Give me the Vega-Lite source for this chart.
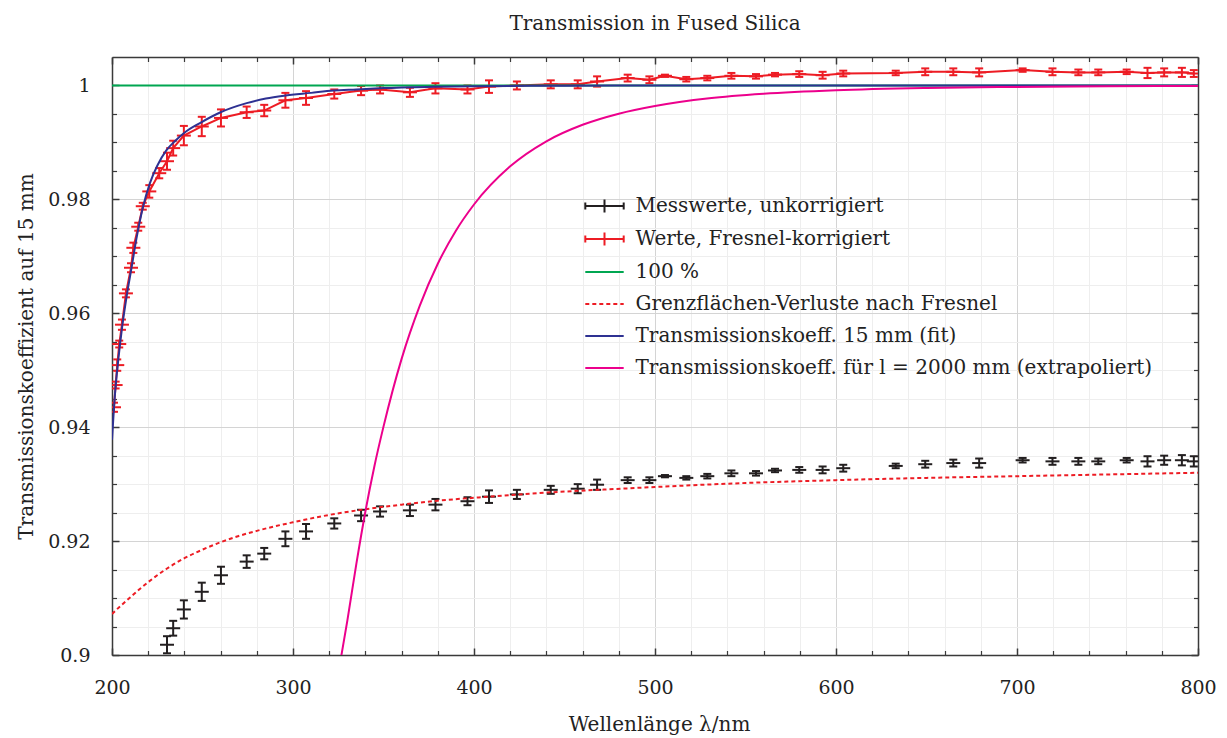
{
  "$schema": "https://vega.github.io/schema/vega-lite/v6.json",
  "width": 1086,
  "height": 598,
  "autosize": {"type": "none"},
  "padding": {"left": 112, "top": 57, "right": 29, "bottom": 83},
  "title": {"text": "Transmission in Fused Silica", "fontSize": 20, "font": "DejaVu Serif", "fontWeight": "normal", "color": "#222222", "baseline": "alphabetic", "offset": 6, "anchor": "middle", "frame": "group"},
  "config": {
    "font": "DejaVu Serif",
    "view": {"stroke": null},
    "axis": {"labelFont": "DejaVu Serif", "titleFont": "DejaVu Serif", "labelColor": "#222222", "titleColor": "#222222", "titleFontWeight": "normal", "tickColor": "#3a3a3a", "domainColor": "#3a3a3a"}
  },
  "datasets": {
    "mess": [
      {"wl": 230.4, "T": 0.9018, "lo": 0.9003, "hi": 0.9033},
      {"wl": 233.8, "T": 0.9047, "lo": 0.9034, "hi": 0.906},
      {"wl": 239.7, "T": 0.908, "lo": 0.9064, "hi": 0.9096},
      {"wl": 249.6, "T": 0.9111, "lo": 0.9095, "hi": 0.9127},
      {"wl": 260.2, "T": 0.914, "lo": 0.9125, "hi": 0.9155},
      {"wl": 274.4, "T": 0.9164, "lo": 0.9153, "hi": 0.9175},
      {"wl": 284.1, "T": 0.9178, "lo": 0.9168, "hi": 0.9188},
      {"wl": 295.8, "T": 0.9204, "lo": 0.9191, "hi": 0.9217},
      {"wl": 307.2, "T": 0.9217, "lo": 0.9204, "hi": 0.923},
      {"wl": 322.8, "T": 0.9231, "lo": 0.9222, "hi": 0.924},
      {"wl": 337.6, "T": 0.9245, "lo": 0.9235, "hi": 0.9255},
      {"wl": 348.1, "T": 0.9252, "lo": 0.9243, "hi": 0.9261},
      {"wl": 364.6, "T": 0.9254, "lo": 0.9244, "hi": 0.9264},
      {"wl": 378.7, "T": 0.9264, "lo": 0.9254, "hi": 0.9274},
      {"wl": 396.4, "T": 0.927, "lo": 0.9263, "hi": 0.9277},
      {"wl": 408.3, "T": 0.9278, "lo": 0.9267, "hi": 0.9289},
      {"wl": 423.7, "T": 0.9282, "lo": 0.9274, "hi": 0.929},
      {"wl": 442.4, "T": 0.929, "lo": 0.9283, "hi": 0.9297},
      {"wl": 457.3, "T": 0.9292, "lo": 0.9284, "hi": 0.93},
      {"wl": 468.0, "T": 0.9299, "lo": 0.929, "hi": 0.9308},
      {"wl": 484.9, "T": 0.9307, "lo": 0.9302, "hi": 0.9312},
      {"wl": 496.9, "T": 0.9307, "lo": 0.9302, "hi": 0.9312},
      {"wl": 505.5, "T": 0.9314, "lo": 0.9312, "hi": 0.9316},
      {"wl": 517.3, "T": 0.9311, "lo": 0.9308, "hi": 0.9314},
      {"wl": 528.9, "T": 0.9314, "lo": 0.931, "hi": 0.9318},
      {"wl": 542.2, "T": 0.9319, "lo": 0.9314, "hi": 0.9324},
      {"wl": 555.8, "T": 0.9319, "lo": 0.9315, "hi": 0.9323},
      {"wl": 566.3, "T": 0.9324, "lo": 0.9321, "hi": 0.9327},
      {"wl": 579.7, "T": 0.9325, "lo": 0.932, "hi": 0.933},
      {"wl": 592.6, "T": 0.9325, "lo": 0.9319, "hi": 0.9331},
      {"wl": 604.0, "T": 0.9328, "lo": 0.9322, "hi": 0.9334},
      {"wl": 633.0, "T": 0.9332, "lo": 0.9328, "hi": 0.9336},
      {"wl": 649.3, "T": 0.9335, "lo": 0.9329, "hi": 0.9341},
      {"wl": 664.8, "T": 0.9337, "lo": 0.9331, "hi": 0.9343},
      {"wl": 679.1, "T": 0.9337, "lo": 0.9329, "hi": 0.9345},
      {"wl": 703.1, "T": 0.9342, "lo": 0.9338, "hi": 0.9346},
      {"wl": 719.6, "T": 0.934, "lo": 0.9334, "hi": 0.9346},
      {"wl": 733.9, "T": 0.934, "lo": 0.9334, "hi": 0.9346},
      {"wl": 744.9, "T": 0.934, "lo": 0.9335, "hi": 0.9345},
      {"wl": 760.6, "T": 0.9342, "lo": 0.9338, "hi": 0.9346},
      {"wl": 772.1, "T": 0.934, "lo": 0.9331, "hi": 0.9349},
      {"wl": 781.3, "T": 0.9342, "lo": 0.9334, "hi": 0.935},
      {"wl": 791.1, "T": 0.9342, "lo": 0.9333, "hi": 0.9351},
      {"wl": 797.7, "T": 0.934, "lo": 0.9331, "hi": 0.9349}
    ],
    "korr": [
      {"wl": 201.1, "T": 0.9435, "lo": 0.9427, "hi": 0.9443},
      {"wl": 202.0, "T": 0.9474, "lo": 0.9468, "hi": 0.948},
      {"wl": 202.9, "T": 0.9509, "lo": 0.9499, "hi": 0.9519},
      {"wl": 204.0, "T": 0.9546, "lo": 0.954, "hi": 0.9552},
      {"wl": 205.5, "T": 0.958, "lo": 0.9571, "hi": 0.9589},
      {"wl": 207.7, "T": 0.9635, "lo": 0.9628, "hi": 0.9642},
      {"wl": 210.5, "T": 0.968, "lo": 0.9672, "hi": 0.9688},
      {"wl": 211.8, "T": 0.9715, "lo": 0.9706, "hi": 0.9724},
      {"wl": 214.5, "T": 0.9752, "lo": 0.9745, "hi": 0.9759},
      {"wl": 217.0, "T": 0.9788, "lo": 0.9782, "hi": 0.9794},
      {"wl": 220.6, "T": 0.9814, "lo": 0.9803, "hi": 0.9825},
      {"wl": 226.1, "T": 0.9846, "lo": 0.9837, "hi": 0.9855},
      {"wl": 230.4, "T": 0.9867, "lo": 0.9852, "hi": 0.9882},
      {"wl": 233.8, "T": 0.989, "lo": 0.9877, "hi": 0.9903},
      {"wl": 239.7, "T": 0.9912, "lo": 0.9895, "hi": 0.9929},
      {"wl": 249.6, "T": 0.9928, "lo": 0.9911, "hi": 0.9945},
      {"wl": 260.2, "T": 0.9943, "lo": 0.9928, "hi": 0.9958},
      {"wl": 274.4, "T": 0.9953, "lo": 0.9943, "hi": 0.9963},
      {"wl": 284.1, "T": 0.9956, "lo": 0.9946, "hi": 0.9966},
      {"wl": 295.8, "T": 0.9974, "lo": 0.9961, "hi": 0.9987},
      {"wl": 307.2, "T": 0.9978, "lo": 0.9966, "hi": 0.999},
      {"wl": 322.8, "T": 0.9985, "lo": 0.9977, "hi": 0.9993},
      {"wl": 337.6, "T": 0.9991, "lo": 0.9983, "hi": 0.9999},
      {"wl": 348.1, "T": 0.9993, "lo": 0.9986, "hi": 1.0},
      {"wl": 364.6, "T": 0.9988, "lo": 0.998, "hi": 0.9996},
      {"wl": 378.7, "T": 0.9995, "lo": 0.9986, "hi": 1.0004},
      {"wl": 396.4, "T": 0.9993, "lo": 0.9986, "hi": 1.0},
      {"wl": 408.3, "T": 0.9998, "lo": 0.9987, "hi": 1.0009},
      {"wl": 423.7, "T": 1.0, "lo": 0.9993, "hi": 1.0007},
      {"wl": 442.4, "T": 1.0002, "lo": 0.9995, "hi": 1.0009},
      {"wl": 457.3, "T": 1.0002, "lo": 0.9995, "hi": 1.0009},
      {"wl": 468.0, "T": 1.0007, "lo": 0.9998, "hi": 1.0016},
      {"wl": 484.9, "T": 1.0013, "lo": 1.0007, "hi": 1.0019},
      {"wl": 496.9, "T": 1.001, "lo": 1.0004, "hi": 1.0016},
      {"wl": 505.5, "T": 1.0017, "lo": 1.0015, "hi": 1.0019},
      {"wl": 517.3, "T": 1.0011, "lo": 1.0007, "hi": 1.0015},
      {"wl": 528.9, "T": 1.0013, "lo": 1.0009, "hi": 1.0017},
      {"wl": 542.2, "T": 1.0017, "lo": 1.0012, "hi": 1.0022},
      {"wl": 555.8, "T": 1.0016, "lo": 1.0012, "hi": 1.002},
      {"wl": 566.3, "T": 1.0019, "lo": 1.0016, "hi": 1.0022},
      {"wl": 579.7, "T": 1.002, "lo": 1.0015, "hi": 1.0025},
      {"wl": 592.6, "T": 1.0018, "lo": 1.0012, "hi": 1.0024},
      {"wl": 604.0, "T": 1.0021, "lo": 1.0016, "hi": 1.0026},
      {"wl": 633.0, "T": 1.0022, "lo": 1.0018, "hi": 1.0026},
      {"wl": 649.3, "T": 1.0024, "lo": 1.0018, "hi": 1.003},
      {"wl": 664.8, "T": 1.0024, "lo": 1.0018, "hi": 1.003},
      {"wl": 679.1, "T": 1.0023, "lo": 1.0016, "hi": 1.003},
      {"wl": 703.1, "T": 1.0027, "lo": 1.0024, "hi": 1.003},
      {"wl": 719.6, "T": 1.0024, "lo": 1.0018, "hi": 1.003},
      {"wl": 733.9, "T": 1.0023, "lo": 1.0018, "hi": 1.0028},
      {"wl": 744.9, "T": 1.0023, "lo": 1.0018, "hi": 1.0028},
      {"wl": 760.6, "T": 1.0024, "lo": 1.002, "hi": 1.0028},
      {"wl": 772.1, "T": 1.0022, "lo": 1.0013, "hi": 1.0031},
      {"wl": 781.3, "T": 1.0023, "lo": 1.0016, "hi": 1.003},
      {"wl": 791.1, "T": 1.0023, "lo": 1.0015, "hi": 1.0031},
      {"wl": 797.7, "T": 1.0021, "lo": 1.0015, "hi": 1.0027}
    ],
    "hundert": [
      {"wl": 200, "T": 1.0},
      {"wl": 800, "T": 1.0}
    ],
    "fresnel": [
      {"wl": 200, "T": 0.9072}, {"wl": 205, "T": 0.9087}, {"wl": 210, "T": 0.9101}, {"wl": 215, "T": 0.9115},
      {"wl": 220, "T": 0.9128}, {"wl": 225, "T": 0.914}, {"wl": 230, "T": 0.9151}, {"wl": 235, "T": 0.9161},
      {"wl": 240, "T": 0.917}, {"wl": 250, "T": 0.9185}, {"wl": 260, "T": 0.9198}, {"wl": 270, "T": 0.9209},
      {"wl": 280, "T": 0.9218}, {"wl": 290, "T": 0.9226}, {"wl": 300, "T": 0.9233}, {"wl": 320, "T": 0.9246},
      {"wl": 340, "T": 0.9256}, {"wl": 360, "T": 0.9264}, {"wl": 380, "T": 0.9271}, {"wl": 400, "T": 0.9276},
      {"wl": 425, "T": 0.9282}, {"wl": 450, "T": 0.9287}, {"wl": 475, "T": 0.9291}, {"wl": 500, "T": 0.9295},
      {"wl": 550, "T": 0.9302}, {"wl": 600, "T": 0.9307}, {"wl": 650, "T": 0.9311}, {"wl": 700, "T": 0.9314},
      {"wl": 750, "T": 0.9317}, {"wl": 800, "T": 0.932}
    ],
    "fit": [
      {"wl": 200, "T": 0.9378}, {"wl": 201.7, "T": 0.946}, {"wl": 203.5, "T": 0.9519}, {"wl": 205.4, "T": 0.9571},
      {"wl": 208.1, "T": 0.963}, {"wl": 210.9, "T": 0.9682}, {"wl": 213.5, "T": 0.9731}, {"wl": 217, "T": 0.9785},
      {"wl": 221, "T": 0.9829}, {"wl": 225, "T": 0.9859}, {"wl": 230, "T": 0.9886}, {"wl": 235, "T": 0.9903},
      {"wl": 240, "T": 0.9917}, {"wl": 248.6, "T": 0.9934}, {"wl": 260, "T": 0.9953}, {"wl": 274.4, "T": 0.9969},
      {"wl": 285, "T": 0.9977}, {"wl": 295, "T": 0.9982}, {"wl": 310, "T": 0.9987}, {"wl": 322.3, "T": 0.9991},
      {"wl": 335, "T": 0.9993}, {"wl": 350, "T": 0.99954}, {"wl": 377.5, "T": 0.99977}, {"wl": 400, "T": 0.99988},
      {"wl": 450, "T": 0.99997}, {"wl": 500, "T": 1.0}, {"wl": 800, "T": 1.0}
    ],
    "extra": [
      {"wl": 326.5, "T": 0.8995}, {"wl": 330, "T": 0.906}, {"wl": 335, "T": 0.916}, {"wl": 340, "T": 0.9252},
      {"wl": 345, "T": 0.9332}, {"wl": 350, "T": 0.9401}, {"wl": 360, "T": 0.952}, {"wl": 370, "T": 0.9613},
      {"wl": 380, "T": 0.9687}, {"wl": 390, "T": 0.9745}, {"wl": 400, "T": 0.9791}, {"wl": 420, "T": 0.9858},
      {"wl": 440, "T": 0.9902}, {"wl": 460, "T": 0.9931}, {"wl": 480, "T": 0.99505}, {"wl": 500, "T": 0.9964},
      {"wl": 530, "T": 0.99774}, {"wl": 560, "T": 0.99853}, {"wl": 600, "T": 0.99915}, {"wl": 650, "T": 0.99955},
      {"wl": 700, "T": 0.99975}, {"wl": 750, "T": 0.99985}, {"wl": 800, "T": 0.99991}
    ]
  },
  "layer": [
    {
      "data": {"name": "mess"},
      "mark": {"type": "rule", "strokeWidth": 2, "clip": true},
      "encoding": {
        "x": {"field": "wl", "type": "quantitative", "scale": {"domain": [200, 800], "nice": false, "zero": false},
          "axis": {"orient": "bottom", "values": [200, 300, 400, 500, 600, 700, 800], "format": "d", "grid": true, "gridColor": "#d4d4d4", "gridWidth": 1, "tickSize": -7, "tickWidth": 1.5, "domain": true, "domainWidth": 1.5, "labelFontSize": 19, "labelPadding": 30, "labelFlush": false, "labelOverlap": false, "title": "Wellenlänge λ/nm", "titleFontSize": 20, "titleX": 547, "titleY": 75, "titleBaseline": "alphabetic", "titleAlign": "center"}},
        "y": {"field": "lo", "type": "quantitative", "scale": {"domain": [0.9, 1.005], "nice": false, "zero": false},
          "axis": {"orient": "left", "values": [0.9, 0.92, 0.94, 0.96, 0.98, 1], "format": ".2~f", "grid": true, "gridColor": "#d4d4d4", "gridWidth": 1, "tickSize": -7, "tickWidth": 1.5, "domain": true, "domainWidth": 1.5, "labelFontSize": 19, "labelPadding": 29, "labelFlush": false, "labelOverlap": false, "title": "Transmissionskoeffizient auf 15 mm", "titleFontSize": 20, "titleX": -80, "titleY": 299, "titleAngle": -90, "titleBaseline": "alphabetic", "titleAlign": "center"}},
        "y2": {"field": "hi"},
        "color": {"datum": "Messwerte, unkorrigiert", "type": "nominal",
          "scale": {"domain": ["Messwerte, unkorrigiert", "Werte, Fresnel-korrigiert", "100 %", "Grenzflächen-Verluste nach Fresnel", "Transmissionskoeff. 15 mm (fit)", "Transmissionskoeff. für l = 2000 mm (extrapoliert)"],
                    "range": ["#231f20", "#ed1c24", "#00a651", "#ed1c24", "#2e3192", "#ec008c"]},
          "legend": {"orient": "none", "legendX": 479.5, "legendY": 136, "title": null, "padding": 0, "symbolType": "M-1.6,0L1.6,0", "symbolSize": 576, "symbolStrokeWidth": 2, "labelFontSize": 20, "labelFont": "DejaVu Serif", "labelColor": "#222222", "labelOffset": 18, "rowPadding": 9, "labelLimit": 800,
            "encode": {"symbols": {"update": {
              "shape": {"signal": "indexof(['Messwerte, unkorrigiert','Werte, Fresnel-korrigiert'], datum.value) >= 0 ? 'M-1.6,0L1.6,0M-1.6,-0.3L-1.6,0.3M0,-0.55L0,0.55M1.6,-0.3L1.6,0.3' : 'M-1.6,0L1.6,0'"},
              "strokeDash": {"signal": "datum.value === 'Grenzflächen-Verluste nach Fresnel' ? [4,3] : [1,0]"},
              "fill": {"value": "transparent"},
              "stroke": {"scale": "color", "field": "value"},
              "strokeWidth": {"value": 2}
            }}}}}
      }
    },
    {
      "data": {"name": "mess"},
      "transform": [{"fold": ["lo", "hi"], "as": ["end", "yv"]}],
      "mark": {"type": "tick", "orient": "horizontal", "size": 8, "thickness": 2, "opacity": 1, "clip": true},
      "encoding": {
        "x": {"field": "wl", "type": "quantitative", "scale": {"domain": [200, 800], "nice": false, "zero": false},
          "axis": {"orient": "bottom", "values": [220, 240, 260, 280, 320, 340, 360, 380, 420, 440, 460, 480, 520, 540, 560, 580, 620, 640, 660, 680, 720, 740, 760, 780], "grid": true, "gridColor": "#eeeeee", "gridWidth": 1, "tickSize": -4.5, "tickWidth": 1.2, "domain": false, "labels": false, "title": null}},
        "y": {"field": "yv", "type": "quantitative", "scale": {"domain": [0.9, 1.005], "nice": false, "zero": false},
          "axis": {"orient": "left", "values": [0.905, 0.91, 0.915, 0.925, 0.93, 0.935, 0.945, 0.95, 0.955, 0.965, 0.97, 0.975, 0.985, 0.99, 0.995], "grid": true, "gridColor": "#eeeeee", "gridWidth": 1, "tickSize": -4.5, "tickWidth": 1.2, "domain": false, "labels": false, "title": null}},
        "color": {"datum": "Messwerte, unkorrigiert", "type": "nominal"}
      }
    },
    {
      "data": {"name": "mess"},
      "mark": {"type": "tick", "orient": "horizontal", "size": 14, "thickness": 2, "opacity": 1, "clip": true},
      "encoding": {
        "x": {"field": "wl", "type": "quantitative", "scale": {"domain": [200, 800], "nice": false, "zero": false},
          "axis": {"orient": "top", "values": [200, 300, 400, 500, 600, 700, 800], "grid": false, "tickSize": -7, "tickWidth": 1.5, "domain": true, "domainWidth": 1.5, "labels": false, "title": null}},
        "y": {"field": "T", "type": "quantitative", "scale": {"domain": [0.9, 1.005], "nice": false, "zero": false},
          "axis": {"orient": "right", "values": [0.9, 0.92, 0.94, 0.96, 0.98, 1], "grid": false, "tickSize": -7, "tickWidth": 1.5, "domain": true, "domainWidth": 1.5, "labels": false, "title": null}},
        "color": {"datum": "Messwerte, unkorrigiert", "type": "nominal"}
      }
    },
    {
      "data": {"name": "korr"},
      "mark": {"type": "line", "strokeWidth": 2, "clip": true},
      "encoding": {
        "x": {"field": "wl", "type": "quantitative", "scale": {"domain": [200, 800], "nice": false, "zero": false},
          "axis": {"orient": "top", "values": [220, 240, 260, 280, 320, 340, 360, 380, 420, 440, 460, 480, 520, 540, 560, 580, 620, 640, 660, 680, 720, 740, 760, 780], "grid": false, "tickSize": -4.5, "tickWidth": 1.2, "domain": false, "labels": false, "title": null}},
        "y": {"field": "T", "type": "quantitative", "scale": {"domain": [0.9, 1.005], "nice": false, "zero": false},
          "axis": {"orient": "right", "values": [0.905, 0.91, 0.915, 0.925, 0.93, 0.935, 0.945, 0.95, 0.955, 0.965, 0.97, 0.975, 0.985, 0.99, 0.995], "grid": false, "tickSize": -4.5, "tickWidth": 1.2, "domain": false, "labels": false, "title": null}},
        "color": {"datum": "Werte, Fresnel-korrigiert", "type": "nominal"}
      }
    },
    {
      "data": {"name": "korr"},
      "mark": {"type": "rule", "strokeWidth": 2, "clip": true},
      "encoding": {
        "x": {"field": "wl", "type": "quantitative", "scale": {"domain": [200, 800], "nice": false, "zero": false}, "axis": null},
        "y": {"field": "lo", "type": "quantitative", "scale": {"domain": [0.9, 1.005], "nice": false, "zero": false}, "axis": null},
        "y2": {"field": "hi"},
        "color": {"datum": "Werte, Fresnel-korrigiert", "type": "nominal"}
      }
    },
    {
      "data": {"name": "korr"},
      "transform": [{"fold": ["lo", "hi"], "as": ["end", "yv"]}],
      "mark": {"type": "tick", "orient": "horizontal", "size": 8, "thickness": 2, "opacity": 1, "clip": true},
      "encoding": {
        "x": {"field": "wl", "type": "quantitative", "scale": {"domain": [200, 800], "nice": false, "zero": false}, "axis": null},
        "y": {"field": "yv", "type": "quantitative", "scale": {"domain": [0.9, 1.005], "nice": false, "zero": false}, "axis": null},
        "color": {"datum": "Werte, Fresnel-korrigiert", "type": "nominal"}
      }
    },
    {
      "data": {"name": "korr"},
      "mark": {"type": "tick", "orient": "horizontal", "size": 14, "thickness": 2, "opacity": 1, "clip": true},
      "encoding": {
        "x": {"field": "wl", "type": "quantitative", "scale": {"domain": [200, 800], "nice": false, "zero": false}, "axis": null},
        "y": {"field": "T", "type": "quantitative", "scale": {"domain": [0.9, 1.005], "nice": false, "zero": false}, "axis": null},
        "color": {"datum": "Werte, Fresnel-korrigiert", "type": "nominal"}
      }
    },
    {
      "data": {"name": "hundert"},
      "mark": {"type": "line", "strokeWidth": 2, "clip": true},
      "encoding": {
        "x": {"field": "wl", "type": "quantitative", "scale": {"domain": [200, 800], "nice": false, "zero": false}, "axis": null},
        "y": {"field": "T", "type": "quantitative", "scale": {"domain": [0.9, 1.005], "nice": false, "zero": false}, "axis": null},
        "color": {"datum": "100 %", "type": "nominal"}
      }
    },
    {
      "data": {"name": "fresnel"},
      "mark": {"type": "line", "strokeWidth": 2, "strokeDash": [4, 3], "interpolate": "monotone", "clip": true},
      "encoding": {
        "x": {"field": "wl", "type": "quantitative", "scale": {"domain": [200, 800], "nice": false, "zero": false}, "axis": null},
        "y": {"field": "T", "type": "quantitative", "scale": {"domain": [0.9, 1.005], "nice": false, "zero": false}, "axis": null},
        "color": {"datum": "Grenzflächen-Verluste nach Fresnel", "type": "nominal"}
      }
    },
    {
      "data": {"name": "fit"},
      "mark": {"type": "line", "strokeWidth": 2, "interpolate": "monotone", "clip": true},
      "encoding": {
        "x": {"field": "wl", "type": "quantitative", "scale": {"domain": [200, 800], "nice": false, "zero": false}, "axis": null},
        "y": {"field": "T", "type": "quantitative", "scale": {"domain": [0.9, 1.005], "nice": false, "zero": false}, "axis": null},
        "color": {"datum": "Transmissionskoeff. 15 mm (fit)", "type": "nominal"}
      }
    },
    {
      "data": {"name": "extra"},
      "mark": {"type": "line", "strokeWidth": 2, "interpolate": "monotone", "clip": true},
      "encoding": {
        "x": {"field": "wl", "type": "quantitative", "scale": {"domain": [200, 800], "nice": false, "zero": false}, "axis": null},
        "y": {"field": "T", "type": "quantitative", "scale": {"domain": [0.9, 1.005], "nice": false, "zero": false}, "axis": null},
        "color": {"datum": "Transmissionskoeff. für l = 2000 mm (extrapoliert)", "type": "nominal"}
      }
    }
  ],
  "resolve": {"axis": {"x": "independent", "y": "independent"}}
}
